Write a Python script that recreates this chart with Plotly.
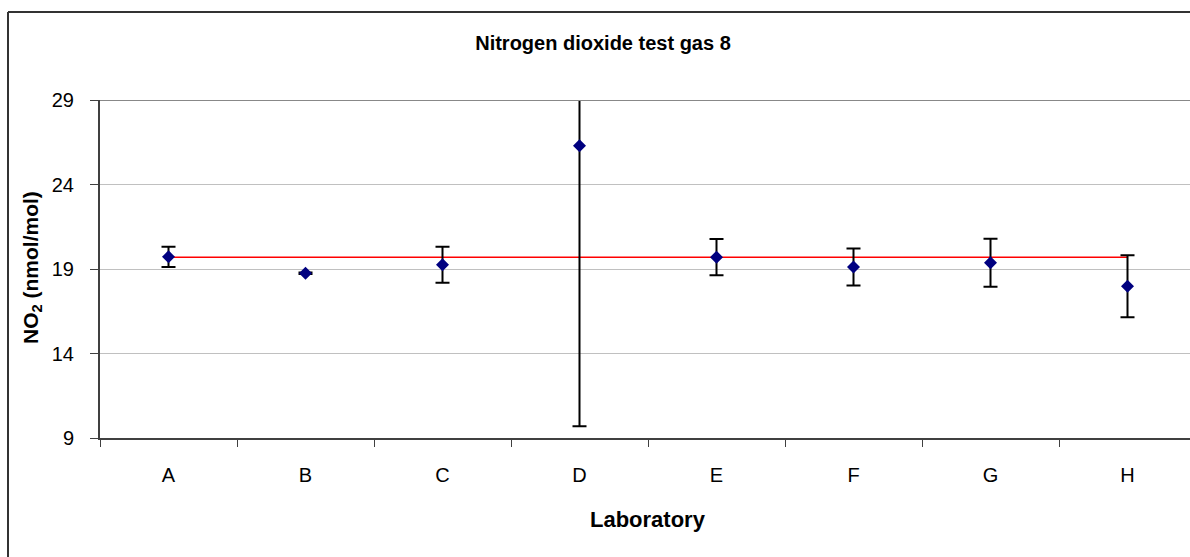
import plotly.graph_objects as go

# Laboratory results for test gas 8
laboratories = ["A", "B", "C", "D", "E", "F", "G", "H"]
no2_values = [19.72, 18.75, 19.25, 26.3, 19.7, 19.12, 19.37, 17.98]
uncertainties = [0.6, 0.05, 1.06, 16.6, 1.07, 1.1, 1.42, 1.84]
reference_value = 19.7
y_ticks = [9, 14, 19, 24, 29]

W, H = 1190, 557
M_L, M_R, M_T, M_B = 100, 0, 100, 119
plot_w = W - M_L - M_R
plot_h = H - M_T - M_B


def px_x(p):
    return (p - M_L) / plot_w


def px_y(p):
    return (H - M_B - p) / plot_h


FONT = "Liberation Sans, Arial, sans-serif"

fig = go.Figure()

# reference value across all laboratories
fig.add_trace(go.Scatter(
    x=laboratories,
    y=[reference_value] * len(laboratories),
    mode="lines",
    line=dict(color="#ff0000", width=1.5),
    hoverinfo="skip",
    showlegend=False,
))

# measured values with uncertainty bars
fig.add_trace(go.Scatter(
    x=laboratories,
    y=no2_values,
    mode="markers",
    marker=dict(symbol="diamond", size=10, color="#000080"),
    error_y=dict(type="data", array=uncertainties, symmetric=True,
                 color="#000000", thickness=2, width=7),
    showlegend=False,
))

shapes = [
    # top border of the plot area
    dict(type="line", xref="paper", yref="y", x0=0, x1=1, y0=29, y1=29,
         line=dict(color="#888888", width=2)),
    # chart frame
    dict(type="line", xref="paper", yref="paper", x0=px_x(8), x1=px_x(8),
         y0=px_y(560), y1=px_y(12), line=dict(color="#333333", width=2)),
    dict(type="line", xref="paper", yref="paper", x0=px_x(8), x1=px_x(1200),
         y0=px_y(12), y1=px_y(12), line=dict(color="#333333", width=2)),
]

annotations = [
    dict(text="<b>Laboratory</b>", xref="paper", yref="paper",
         x=px_x(648), y=px_y(519), xanchor="center", yanchor="middle",
         showarrow=False, font=dict(family=FONT, size=22, color="#000000")),
    dict(text="<b>NO<sub>2</sub> (nmol/mol)</b>", xref="paper", yref="paper",
         x=px_x(32), y=px_y(268), xanchor="center", yanchor="middle",
         textangle=-90, showarrow=False,
         font=dict(family=FONT, size=21, color="#000000")),
]

fig.update_layout(
    width=W, height=H,
    margin=dict(l=M_L, r=M_R, t=M_T, b=M_B, pad=0),
    paper_bgcolor="#ffffff",
    plot_bgcolor="#ffffff",
    font=dict(family=FONT, color="#000000"),
    title=dict(text="<b>Nitrogen dioxide test gas 8</b>",
               x=603 / W, xanchor="center", y=1 - 43 / H, yanchor="middle",
               font=dict(family=FONT, size=20, color="#000000")),
    shapes=shapes,
    annotations=annotations,
    xaxis=dict(
        type="category",
        categoryorder="array", categoryarray=laboratories,
        range=[-0.5, -0.5 + plot_w / 137.0],
        tickson="boundaries",
        ticks="outside", ticklen=7, tickwidth=1, tickcolor="#404040",
        showline=True, linecolor="#404040", linewidth=2,
        showgrid=False, zeroline=False,
        tickfont=dict(family=FONT, size=20, color="#000000"),
        ticklabelstandoff=18,
    ),
    yaxis=dict(
        range=[9, 29],
        tickvals=y_ticks,
        ticks="outside", ticklen=8, tickwidth=1, tickcolor="#404040",
        showline=True, linecolor="#404040", linewidth=2,
        showgrid=True, gridcolor="#c0c0c0", gridwidth=1,
        zeroline=False,
        tickfont=dict(family=FONT, size=20, color="#000000"),
        ticklabelstandoff=12,
    ),
)

fig.write_html("out.html")
